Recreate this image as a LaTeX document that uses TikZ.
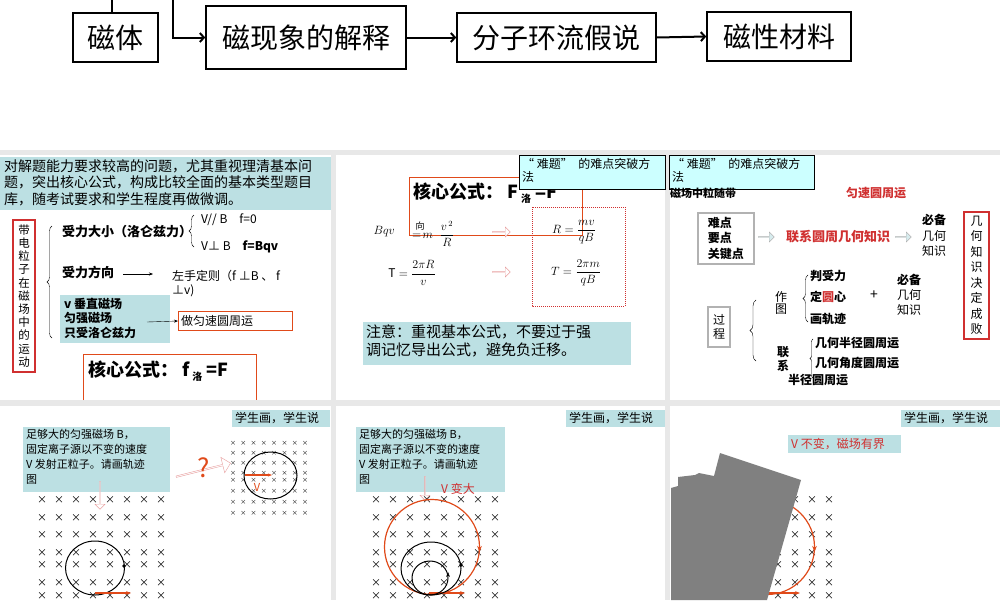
\documentclass[tikz,border=0pt]{standalone}
\usepackage{amsmath}
\usepackage{fontspec}
\setmainfont{Noto Sans CJK SC}
\usetikzlibrary{arrows.meta,decorations.pathreplacing,shapes.arrows}
\definecolor{teal1}{HTML}{BCE0E3}
\definecolor{cyan1}{HTML}{CCFFFF}
\definecolor{redd}{HTML}{D03030}
\definecolor{oran}{HTML}{E04A1A}
\definecolor{pinkk}{HTML}{E8A0A0}
\tikzset{
 topbox/.style={draw,line width=1.6pt,font=\fontsize{28}{30}\selectfont,inner sep=0pt},
 topar/.style={line width=2pt,-{Straight Barb[length=4pt,width=9pt]}},
 tl/.style={anchor=west,inner sep=0pt,font=\fontsize{13}{15}\selectfont},
 tb/.style={tl,font=\fontsize{13}{15}\selectfont\bfseries},
 pan/.style={fill=white,draw=none},
 tealbox/.style={fill=teal1,draw=none},
 callout/.style={fill=cyan1,draw=black,line width=0.8pt},
 xm/.style={inner sep=0pt,font=\fontsize{10}{10}\selectfont},
 xs/.style={inner sep=0pt,font=\fontsize{6}{6}\selectfont},
 oarr/.style={single arrow,draw=pinkk,fill=white,minimum height=18pt,minimum width=10pt,single arrow head extend=2pt,inner sep=0pt},
 br/.style={decorate,decoration={brace,amplitude=5pt},thin},
 vtext/.style={align=center,inner sep=0pt,font=\fontsize{12}{14}\selectfont},
}
\begin{document}
\begin{tikzpicture}[x=1pt,y=-1pt]
\useasboundingbox (0,0) rectangle (1000,600);
\fill[white] (0,0) rectangle (1000,150);
\fill[gray!18] (0,150) rectangle (1000,600);
% top chart
\node[topbox,minimum width=85pt,minimum height=49pt] (b1) at (115.5,37.5) {磁体};
\node[topbox,minimum width=200pt,minimum height=63pt] (b2) at (306,37.5) {磁现象的解释};
\node[topbox,minimum width=199pt,minimum height=49pt] (b3) at (556.5,37.5) {分子环流假说};
\node[topbox,minimum width=144pt,minimum height=49pt] (b4) at (779,36.5) {磁性材料};
\coordinate (t0) at (112,0);
\coordinate (t1) at (173,0);
\draw[line width=1.6pt] (t0) -- (b1.north -| t0);
\draw[topar] (t1) |- (b2.west);
\draw[topar] (b2.east) -- (b3.west);
\draw[topar] (b3.east) -- (b4.west);
% panels
\fill[pan] (0,155) rectangle (331,400);
\fill[pan] (336,155) rectangle (665,400);
\fill[pan] (670,155) rectangle (1000,400);
\fill[pan] (0,406) rectangle (331,600);
\fill[pan] (336,406) rectangle (665,600);
\fill[pan] (670,406) rectangle (1000,600);
% ---- panel 1
\fill[tealbox] (0,157) rectangle (331,210);
\node[anchor=north west,align=left,inner sep=0pt,font=\fontsize{14}{16.5}\selectfont] (p1t) at (4,159) {对解题能力要求较高的问题，尤其重视理清基本问\\题，突出核心公式，构成比较全面的基本类型题目\\库，随考试要求和学生程度再做微调。};
\node[draw=redd,line width=1.5pt,minimum width=22pt,minimum height=152pt,inner sep=0pt,vtext,font=\fontsize{11.5}{13.2}\selectfont] (p1v) at (24,296) {带\\电\\粒\\子\\在\\磁\\场\\中\\的\\运\\动};
\draw[br] (52,338) -- (52,226);
\node[tb] (f1) at (62,232) {受力大小（洛仑兹力）};
\draw[br] (194,247) -- (194,215);
\node[tl,font=\fontsize{12}{14}\selectfont] (f1a) at (201,220) {V// B\quad f=0};
\node[tl,font=\fontsize{12}{14}\selectfont] (f1b) at (201,247) {V⊥ B\quad \textbf{f=Bqv}};
\node[tb] (f2) at (62,272) {受力方向};
\node[tl,font=\fontsize{12}{14}\selectfont] (f2a) at (172,276) {左手定则（f ⊥B 、 f};
\node[tl,font=\fontsize{12}{14}\selectfont] (f2b) at (172,291) {⊥v)};
\draw[-{Stealth[length=4pt]}] (123,274) -- (153,274);
\fill[tealbox] (60,295) rectangle (170,343);
\node[anchor=north west,align=left,inner sep=0pt,font=\fontsize{12}{14.3}\selectfont\bfseries] (f3) at (64,298) {v 垂直磁场\\匀强磁场\\只受洛仑兹力};
\node[draw=oran,minimum width=114pt,minimum height=19pt,inner sep=0pt,anchor=west,font=\fontsize{12}{14}\selectfont,text width=108pt] (f3a) at (178,321) {做匀速圆周运};
\draw[-{Stealth[length=4pt]}] (147,322) -- (f3a.west);
\draw[draw=oran] (83,400) -- (83,354) -- (256,354) -- (256,400);
\node[tl,font=\fontsize{18}{19}\selectfont\bfseries] (core1) at (88,371) {核心公式： f\,{\fontsize{10}{10}\selectfont\raisebox{-4pt}{洛}} =F};
% ---- panel 2
\draw[oran,line width=0.9pt] (409,177) rectangle (582,235);
\node[tl,font=\fontsize{18}{19}\selectfont\bfseries] (core2) at (413,193) {核心公式： F\,{\fontsize{10}{10}\selectfont\raisebox{-4pt}{洛}} =F};
\node[callout,minimum width=146pt,minimum height=34pt,anchor=north west,inner sep=0pt] (c2) at (519,155) {};
\node[anchor=north west,align=left,inner sep=0pt,font=\fontsize{12}{13}\selectfont] (c2t) at (522,158) {“ 难题”\ \ 的难点突破方\\法};
\draw[redd,densely dotted,line width=1pt] (532,207) rectangle (625,306);
\node[anchor=east,inner sep=0pt,font=\fontsize{12}{13}\selectfont] (e1) at (395,232) {$Bqv$};
\node[anchor=west,inner sep=0pt,font=\fontsize{12}{13}\selectfont] (e1b) at (412,234) {$=\!m\;\;\dfrac{v^{\,2}}{R}$};
\node[inner sep=0pt,font=\fontsize{9}{9}\selectfont] (e1c) at (420,226) {向};
\node[oarr] (a1) at (501,232) {};
\node[anchor=center,inner sep=0pt,font=\fontsize{13}{14}\selectfont] (e2) at (574,232) {$R=\dfrac{mv}{qB}$};
\node[inner sep=0pt,font=\fontsize{12}{13}\selectfont] (e3) at (412,273) {$\mathrm{T}=\dfrac{2\pi R}{v}$};
\node[oarr] (a2) at (501,272) {};
\node[inner sep=0pt,font=\fontsize{13}{14}\selectfont] (e4) at (576,273) {$T=\dfrac{2\pi m}{qB}$};
\fill[tealbox] (363,322) rectangle (631,365);
\node[anchor=north west,align=left,inner sep=0pt,font=\fontsize{15}{18}\selectfont] (n2) at (366,325) {注意：重视基本公式，不要过于强\\调记忆导出公式，避免负迁移。};
% ---- panel 3
\node[callout,minimum width=145pt,minimum height=34pt,anchor=north west,inner sep=0pt] (c3) at (669,155) {};
\node[anchor=north west,align=left,inner sep=0pt,font=\fontsize{12}{13}\selectfont] (c3t) at (672,158) {“ 难题”\ \ 的难点突破方\\法};
\node[tb,font=\fontsize{11}{12}\selectfont\bfseries] (g1) at (670,193) {磁场中粒随带};
\node[tb,text=redd,font=\fontsize{12}{14}\selectfont\bfseries] (g2) at (846,193) {匀速圆周运};
\node[draw=gray!60,line width=1.5pt,minimum width=56pt,minimum height=51pt,inner sep=2pt,anchor=north west,align=left,font=\fontsize{12}{15.5}\selectfont\bfseries] (g3) at (697,212) {难点\\要点\\关键点};
\node[oarr,draw=gray!60,fill=teal1!60,minimum height=16pt] (a3) at (766,237) {};
\node[tb,text=redd,font=\fontsize{13}{15}\selectfont\bfseries] (g4) at (786,237) {联系圆周几何知识};
\node[oarr,draw=gray!60,fill=teal1!60,minimum height=16pt] (a4) at (903,237) {};
\node[anchor=north west,align=left,inner sep=0pt,font=\fontsize{12}{15.5}\selectfont] (g5) at (922,214) {\textbf{必备}\\几何\\知识};
\node[draw=redd,line width=1.5pt,minimum width=25pt,minimum height=127pt,inner sep=0pt,vtext,font=\fontsize{12}{15.5}\selectfont] (g6) at (976.5,275.5) {几\\何\\知\\识\\决\\定\\成\\败};
\node[draw=gray!60,line width=1.5pt,minimum width=22pt,minimum height=40pt,inner sep=0pt,vtext,font=\fontsize{12}{14}\selectfont] (g7) at (719,327) {过\\程};
\draw[br,decoration={amplitude=6pt}] (756,361) -- (756,300);
\node[vtext,font=\fontsize{12}{12}\selectfont] (g8) at (781,303) {作\\图};
\draw[br] (808,322) -- (808,275);
\node[tb,font=\fontsize{12}{14}\selectfont\bfseries] (g9) at (810,276) {判受力};
\node[tb,font=\fontsize{12}{14}\selectfont\bfseries] (g10) at (810,297) {定\textcolor{redd}{圆}心};
\node[tb,font=\fontsize{12}{14}\selectfont\bfseries] (g11) at (810,319) {画轨迹};
\node[inner sep=0pt,font=\fontsize{14}{14}\selectfont] (g12) at (874,295) {+};
\node[anchor=north west,align=left,inner sep=0pt,font=\fontsize{12}{15}\selectfont] (g13) at (897,274) {\textbf{必备}\\几何\\知识};
\node[vtext,font=\fontsize{12}{14}\selectfont\bfseries] (g14) at (783,359) {联\\系};
\draw[br,decoration={amplitude=3pt}] (813,378) -- (813,339);
\node[tb,font=\fontsize{12}{14}\selectfont\bfseries] (g15) at (815,343) {几何半径圆周运};
\node[tb,font=\fontsize{12}{14}\selectfont\bfseries] (g16) at (815,363) {几何角度圆周运};
\node[tb,font=\fontsize{12}{14}\selectfont\bfseries] (g17) at (788,380) {半径圆周运};
% ---- row 2 panel 1
\fill[tealbox] (232,410) rectangle (330,427);
\node[tl,font=\fontsize{12}{14}\selectfont] (s1) at (235,418.5) {学生画，学生说};
\fill[tealbox] (23,427) rectangle (170,492);
\node[anchor=north west,align=left,inner sep=0pt,font=\fontsize{11}{15}\selectfont] (q1) at (26,429) {足够大的匀强磁场 B，\\固定离子源以不变的速度\\V 发射正粒子。请画轨迹\\图};
\node[oarr,shape border rotate=270,minimum height=28pt] (d1) at (100,495) {};
\foreach \x in {0,...,7}{\foreach \y in {500,518,535,553,565,583,596}{\node[xm] at (42+17*\x,\y) {×};}}
\draw[line width=1pt] (95,568) ellipse [x radius=29.5,y radius=27];
\fill (124,566) circle (1.8);
\draw[oran,line width=1.2pt,-{Stealth[length=5pt]}] (95,593) -- (131,593);
\foreach \x in {0,...,7}{\foreach \y in {443,453,463,473,480,491,502,513}{\node[xs] at (233+10.3*\x,\y) {×};}}
\draw[line width=1pt] (270.5,475.5) ellipse [x radius=26.5,y radius=23.5];
\draw[oran,line width=1.2pt,-{Stealth[length=4pt]}] (245,475) -- (272,475);
\node[text=oran,inner sep=0pt,font=\fontsize{11}{11}\selectfont] (vv) at (257,487) {V};
\node[oarr,rotate=14,minimum height=56pt,minimum width=16pt] (r1) at (203,470) {};
\node[text=oran,inner sep=0pt,font=\fontsize{26}{26}\selectfont] (qm) at (204,468) {?};
% ---- row 2 panel 2
\fill[tealbox] (566,410) rectangle (665,427);
\node[tl,font=\fontsize{12}{14}\selectfont] (s2) at (569,418.5) {学生画，学生说};
\fill[tealbox] (356,427) rectangle (505,492);
\node[anchor=north west,align=left,inner sep=0pt,font=\fontsize{11}{15}\selectfont] (q2) at (359,429) {足够大的匀强磁场 B，\\固定离子源以不变的速度\\V 发射正粒子。请画轨迹\\图};
\node[oarr,shape border rotate=270,minimum height=24pt] (d2) at (425,488) {};
\node[tl,text=redd,font=\fontsize{12}{14}\selectfont] (vb) at (441,489) {V 变大};
\foreach \x in {0,...,7}{\foreach \y in {500,518,535,553,565,583,596}{\node[xm] at (376+17*\x,\y) {×};}}
\draw[oran,line width=1.2pt] (432,547) circle (47.5);
\draw[oran,-{Stealth[length=6pt]}] (479.5,545) -- (479.5,552);
\draw[oran,line width=1.2pt,-{Stealth[length=5pt]}] (429,593) -- (465,593);
\draw[line width=1pt] (431,568.5) ellipse [x radius=30,y radius=26.5];
\draw[line width=1pt] (430,578) ellipse [x radius=18,y radius=17];
\fill (461,565) circle (1.8);
\draw[-{Stealth[length=5pt]}] (448,576) -- (448,572);
% ---- row 2 panel 3
\fill[tealbox] (901,410) rectangle (1000,427);
\node[tl,font=\fontsize{12}{14}\selectfont] (s3) at (904,418.5) {学生画，学生说};
\fill[tealbox] (788,435) rectangle (901,453);
\node[tl,text=redd,font=\fontsize{12}{14}\selectfont] (vn) at (791,444) {V 不变，磁场有界};
\foreach \x in {0,...,4}{\foreach \y in {500,518,535,553,565,583,596}{\node[xm] at (761+17*\x,\y) {×};}}
\draw[oran,line width=1.2pt] (767,547) circle (47.5);
\draw[oran,-{Stealth[length=6pt]}] (814.5,545) -- (814.5,552);
\draw[oran,line width=1.2pt,-{Stealth[length=5pt]}] (764,593) -- (800,593);
\fill[gray] (720,453) -- (801,480) -- (767,600) -- (671,600) -- (671,488) -- (678,486) -- (678,477) -- (695,475) -- (699,473) -- (714,476) -- cycle;
\end{tikzpicture}
\end{document}
